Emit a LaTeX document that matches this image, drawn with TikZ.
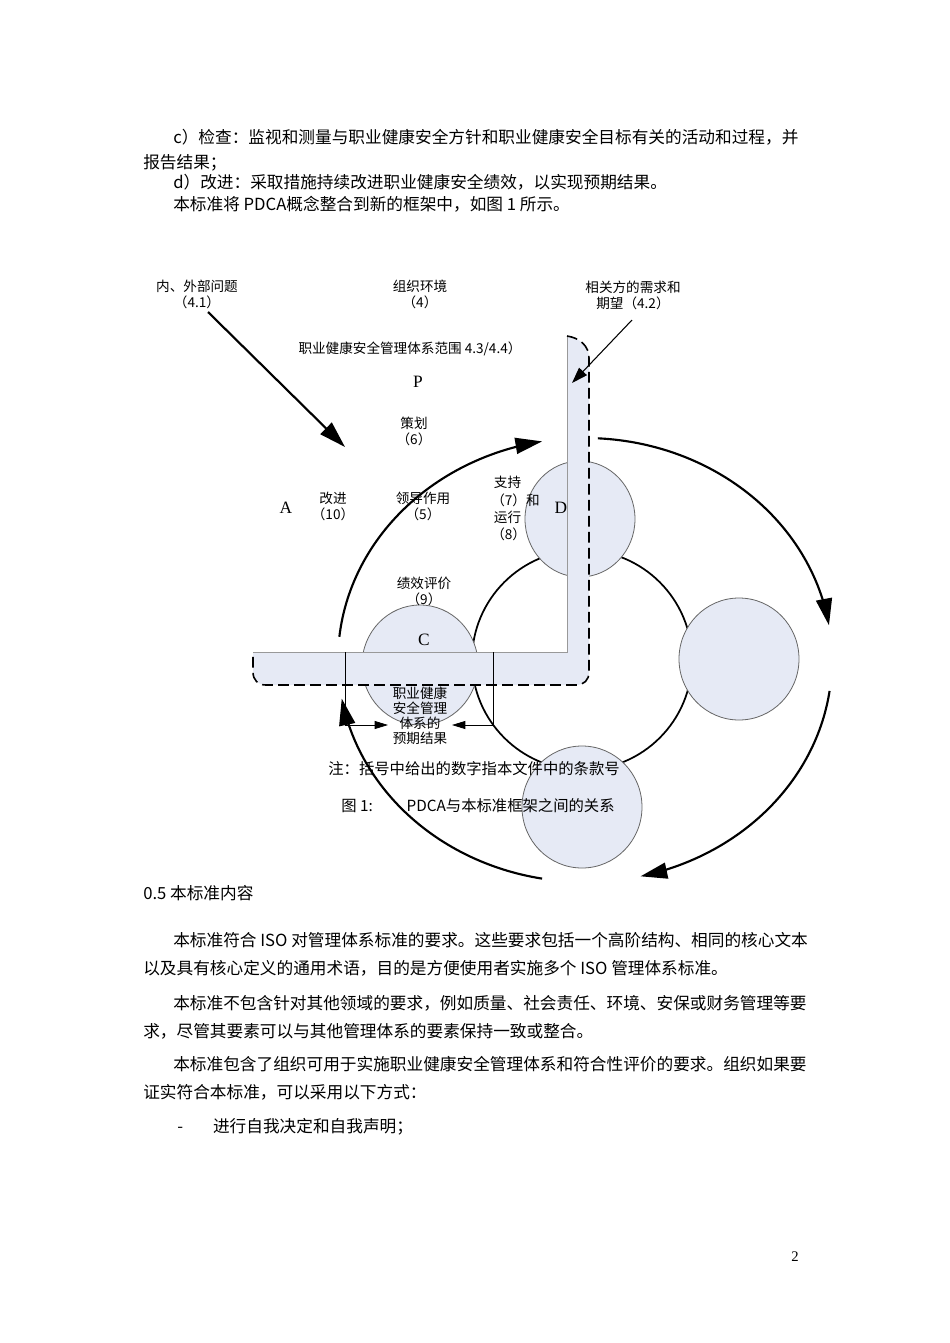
\documentclass[tikz,border=0pt]{standalone}
\usepackage{fontspec}
\setmainfont{Liberation Serif}
\newfontfamily\cjk{Noto Sans CJK SC}
\usetikzlibrary{arrows.meta,shapes.geometric}
\definecolor{bandblue}{HTML}{E6EAF5}
\begin{document}
\begin{tikzpicture}[x=0.75pt,y=-0.75pt,
  para/.style={anchor=west,inner sep=0pt,font=\cjk\fontsize{12.5pt}{14pt}\selectfont},
  lab/.style={inner sep=0pt,font=\cjk\fontsize{10.2pt}{12pt}\selectfont},
  big/.style={line width=1.6pt,-{Triangle[length=20pt,width=12pt]}},
  circ/.style={draw=gray!80!black,fill=bandblue,line width=0.6pt,inner sep=0pt}]
\fill[white] (0,0) rectangle (950,1343);
\useasboundingbox (0,0) rectangle (950,1343);
% top paragraphs
\node[para] (t1) at (173,137) {c）检查：监视和测量与职业健康安全方针和职业健康安全目标有关的活动和过程，并};
\node[para] (t2) at (143,163) {报告结果；};
\node[para] (t3) at (173,182) {d）改进：采取措施持续改进职业健康安全绩效，以实现预期结果。};
\node[para] (t4) at (173,204) {本标准将 PDCA概念整合到新的框架中，如图 1 所示。};
% outer arcs
\draw[big] plot[domain=174:100,samples=60] ({585+247*cos(\x)},{660-222*sin(\x)});
\draw[big] plot[domain=87:9,samples=60] ({585+247*cos(\x)},{660-222*sin(\x)});
\draw[big] plot[domain=-8:-77,samples=60] ({585+247*cos(\x)},{660-222*sin(\x)});
\draw[big] plot[domain=-100:-170,samples=60] ({585+247*cos(\x)},{660-222*sin(\x)});
% ring
\draw[line width=1.3pt] (582,660) circle [radius=110];
% circles
\node[circ,ellipse,minimum width=82.5pt,minimum height=87pt] (cD) at (580,519) {};
\node[circ,ellipse,minimum width=90pt,minimum height=91.5pt] (cR) at (739,659) {};
\node[circ,ellipse,minimum width=90pt,minimum height=91.5pt] (cB) at (582,807) {};
\node[circ,ellipse,minimum width=87pt,minimum height=90pt] (cC) at (420,665) {};
% band
\fill[bandblue] (567,336) .. controls (580,338) and (589,346) .. (589,358) -- (589,672) .. controls (589,680) and (584,685) .. (576,685) -- (266,685) .. controls (258,685) and (253,680) .. (253,672) -- (253,652) -- (567,652) -- cycle;
\draw[gray!80,line width=0.6pt] (253,652) -- (567,652) -- (567,336);
\draw[line width=1.2pt,dash pattern=on 8pt off 4pt] (567,336) .. controls (580,338) and (589,346) .. (589,358) -- (589,672) .. controls (589,680) and (584,685) .. (576,685) -- (266,685) .. controls (258,685) and (253,680) .. (253,672) -- (253,654);
% bracket
\coordinate (bl) at (345,652); \coordinate (blb) at (345,725); \coordinate (ble) at (388,725);
\coordinate (br) at (493,652); \coordinate (brb) at (493,725); \coordinate (bre) at (452,725);
\draw[line width=0.6pt,-{Triangle[length=10pt,width=6pt]}] (bl) -- (blb) -- (ble);
\draw[line width=0.6pt,-{Triangle[length=10pt,width=6pt]}] (br) -- (brb) -- (bre);
% labels
\node[lab,align=center] (nw) at (197,294) {内、外部问题\\（4.1）};
\node[lab,align=center] (env) at (420,294) {组织环境\\（4）};
\node[lab,align=center] (ip) at (633,295) {相关方的需求和\\期望（4.2）};
\coordinate (a1s) at (208,312); \coordinate (a1e) at (345,447);
\coordinate (a2s) at (632,320); \coordinate (a2e) at (572,383);
\draw[line width=1.6pt,-{Triangle[length=20pt,width=12pt]}] (a1s) -- (a1e);
\draw[line width=0.8pt,-{Triangle[length=12pt,width=8pt]}] (a2s) -- (a2e);
\node[lab] (scope) at (410,349) {职业健康安全管理体系范围 4.3/4.4）};
\node[inner sep=0pt,font=\fontsize{13pt}{15pt}\selectfont] (P) at (418,382) {P};
\node[lab,align=center] (plan) at (414,431) {策划\\（6）};
\node[inner sep=0pt,font=\fontsize{13pt}{15pt}\selectfont] (A) at (286,508) {A};
\node[lab,align=center] (imp) at (333,506) {改进\\（10）};
\node[lab,align=center] (lead) at (423,506) {领导作用\\（5）};
\node[lab,align=left,anchor=north west,font=\cjk\fontsize{10.2pt}{13pt}\selectfont] (sup) at (491,476) {\hspace*{2pt}支持\\（7）和\\\hspace*{2pt}运行\\（8）};
\node[inner sep=0pt,font=\fontsize{13pt}{15pt}\selectfont] (D) at (561,508) {D};
\node[lab,align=center] (perf) at (424,591) {绩效评价\\（9）};
\node[inner sep=0pt,font=\fontsize{13pt}{15pt}\selectfont] (C) at (424,640) {C};
\node[lab,align=center,font=\cjk\fontsize{10.2pt}{11.2pt}\selectfont] (out) at (420,716) {职业健康\\安全管理\\体系的\\预期结果};
\node[lab,font=\cjk\fontsize{11.5pt}{13pt}\selectfont] (note) at (474,769) {注：括号中给出的数字指本文件中的条款号};
\node[lab,font=\cjk\fontsize{11.5pt}{13pt}\selectfont] (fig) at (478,806) {图 1:\hspace{2.2em}PDCA与本标准框架之间的关系};
% bottom paragraphs
\node[para] (b1) at (143,893) {0.5 本标准内容};
\node[para] (b2) at (173,940) {本标准符合 ISO 对管理体系标准的要求。这些要求包括一个高阶结构、相同的核心文本};
\node[para] (b3) at (143,968) {以及具有核心定义的通用术语，目的是方便使用者实施多个 ISO 管理体系标准。};
\node[para] (b4) at (173,1003) {本标准不包含针对其他领域的要求，例如质量、社会责任、环境、安保或财务管理等要};
\node[para] (b5) at (143,1031) {求，尽管其要素可以与其他管理体系的要素保持一致或整合。};
\node[para] (b6) at (173,1064) {本标准包含了组织可用于实施职业健康安全管理体系和符合性评价的要求。组织如果要};
\node[para] (b7) at (143,1092) {证实符合本标准，可以采用以下方式：};
\node[para] (b8) at (177,1127) {-\hspace{1.8em}进行自我决定和自我声明；};
\node[inner sep=0pt,font=\fontsize{11pt}{13pt}\selectfont] (pg) at (795,1257) {2};
\end{tikzpicture}
\end{document}
